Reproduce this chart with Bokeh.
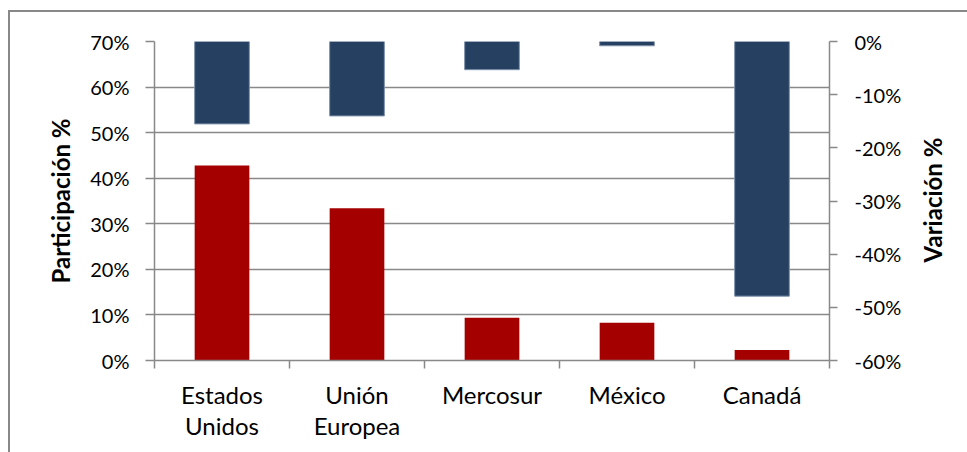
from bokeh.plotting import figure
from bokeh.layouts import row
from bokeh.models import (Range1d, LinearAxis, FixedTicker, PrintfTickFormatter,
                          ColumnDataSource, Div)
from bokeh.embed import file_html
from bokeh.resources import INLINE

# Data
categories = ["Estados Unidos", "Unión Europea", "Mercosur", "México", "Canadá"]
category_labels = ["Estados\nUnidos", "Unión\nEuropea", "Mercosur", "México", "Canadá"]
participacion = [42.8, 33.4, 9.4, 8.3, 2.3]      # %
variacion = [-15.5, -14.0, -5.3, -0.8, -47.9]     # %
left_ticks = [0, 10, 20, 30, 40, 50, 60, 70]
right_ticks = [-60, -50, -40, -30, -20, -10, 0]

GRID = "#898989"
RED = "#A50000"
BLUE = "#264061"
FONT = "Lato"

# category centres and boundaries on a numeric x scale
x_pos = [i + 0.5 for i in range(len(categories))]
bounds = list(range(len(categories) + 1))

src = ColumnDataSource(dict(x=x_pos, cat=categories, part=participacion, var=variacion))

# thin grey frame around the chart area (open to the right and bottom)
frame_css = """
:host { position: relative; }
:host::after {
  content: "";
  position: absolute;
  left: 8px; top: 10px;
  width: 3000px; height: 3000px;
  border-left: 2px solid #888888;
  border-top: 2px solid #888888;
  pointer-events: none;
  z-index: 10;
}
"""

H = 452
PW, TW = 915, 52          # plot width, width of the right-hand title strip
BL, BR, BT, BB = 154, 86, 41, 92

p = figure(width=PW, height=H, output_backend="svg", toolbar_location=None,
           x_range=Range1d(0, len(categories)), y_range=Range1d(0, 70),
           min_border_left=BL, min_border_right=BR, min_border_top=BT,
           min_border_bottom=BB)
p.stylesheets = [frame_css]
p.extra_y_ranges = {"var": Range1d(-60, 0)}
p.outline_line_color = None
p.background_fill_color = "white"
p.border_fill_color = "white"

# bars
p.vbar(x="x", bottom=0, top="part", width=0.405, source=src,
       fill_color=RED, line_color=None)
p.vbar(x="x", bottom="var", top=0, width=0.405, source=src, y_range_name="var",
       fill_color=BLUE, line_color="#7d91ad", line_width=1)

# grid
p.xgrid.visible = False
p.ygrid.ticker = FixedTicker(ticks=left_ticks)
p.ygrid.grid_line_color = GRID
p.ygrid.grid_line_width = 1.5

# left axis
ya = p.yaxis[0]
ya.ticker = FixedTicker(ticks=left_ticks)
ya.formatter = PrintfTickFormatter(format="%d%%")
ya.axis_label = "Participación %"
ya.axis_label_text_font = FONT
ya.axis_label_text_font_style = "bold"
ya.axis_label_text_font_size = "24px"
ya.axis_label_text_color = "black"
ya.axis_label_standoff = 12
ya.major_label_text_font = FONT
ya.major_label_text_font_size = "20px"
ya.major_label_text_color = "black"
ya.major_label_standoff = 16
ya.major_tick_out = 9
ya.major_tick_in = 0
ya.minor_tick_out = 0
ya.minor_tick_in = 0
ya.axis_line_color = GRID
ya.axis_line_width = 1.5
ya.major_tick_line_color = GRID
ya.major_tick_line_width = 1.5

# right axis
ra = LinearAxis(y_range_name="var", ticker=FixedTicker(ticks=right_ticks),
                formatter=PrintfTickFormatter(format="%d%%"))
ra.major_label_text_font = FONT
ra.major_label_text_font_size = "20px"
ra.major_label_text_color = "black"
ra.major_label_standoff = 17
ra.major_tick_out = 8
ra.major_tick_in = 0
ra.minor_tick_out = 0
ra.minor_tick_in = 0
ra.axis_line_color = GRID
ra.axis_line_width = 1.5
ra.major_tick_line_color = GRID
ra.major_tick_line_width = 1.5
p.add_layout(ra, "right")

# bottom axis: labels at category centres, ticks at boundaries
xa = p.xaxis[0]
xa.ticker = FixedTicker(ticks=x_pos, minor_ticks=bounds)
xa.major_label_overrides = {xp: lbl for xp, lbl in zip(x_pos, category_labels)}
xa.major_label_text_font = FONT
xa.major_label_text_font_size = "24px"
xa.major_label_text_color = "black"
xa.major_label_text_line_height = 1.1
xa.major_label_standoff = 11
xa.major_tick_out = 0
xa.major_tick_in = 0
xa.minor_tick_out = 8
xa.minor_tick_in = 0
xa.minor_tick_line_color = GRID
xa.minor_tick_line_width = 1.5
xa.axis_line_color = GRID
xa.axis_line_width = 1.5

# right-hand axis title, reading bottom to top, centred on the plot height
title_y = BT + (H - BT - BB) / 2
right_title = Div(
    text=('<span style="position:absolute; left:18px; top:%dpx; '
          'transform:translate(-50%%,-50%%) rotate(-90deg); white-space:nowrap; '
          'font-family:Lato; font-weight:bold; font-size:24px; color:black;">'
          'Variación %%</span>') % title_y,
    width=TW, height=H, margin=0,
    stylesheets=[":host { position: relative; background: white; }"])

layout = row(p, right_title, spacing=0)

open("out.html", "w").write(file_html(layout, INLINE))
